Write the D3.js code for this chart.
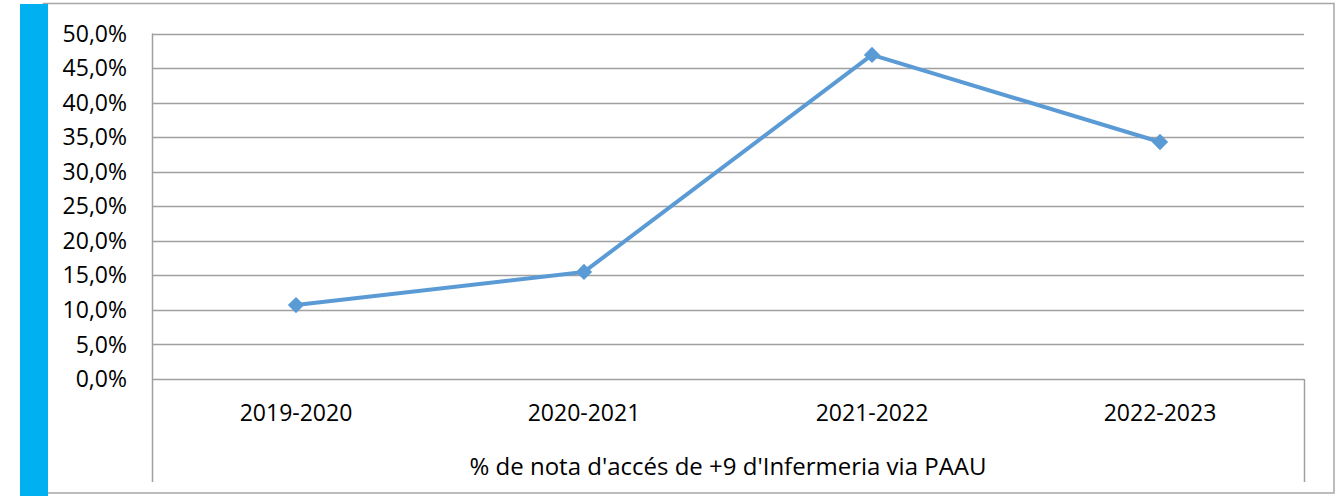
<!DOCTYPE html>
<html>
<head>
<meta charset="utf-8">
<script src="https://cdn.jsdelivr.net/npm/d3@7"></script>
<style>
  body { margin: 0; background: #fff; }
  text { font-family: "Open Sans", sans-serif; fill: #000; }
</style>
</head>
<body>
<div id="chart"></div>
<script>
// data
var years = ["2019-2020", "2020-2021", "2021-2022", "2022-2023"];
var values = [10.7, 15.5, 46.9, 34.3];
var yTicks = [0, 5, 10, 15, 20, 25, 30, 35, 40, 45, 50];
var seriesName = "% de nota d'accés de +9 d'Infermeria via PAAU";

var W = 1343, H = 496;
var plot = {left: 152, right: 1304, top: 33.5, bottom: 379};

var svg = d3.select("#chart").append("svg")
    .attr("width", W)
    .attr("height", H);

// outer chart border
svg.append("rect")
    .attr("x", 43.5).attr("y", 3.5)
    .attr("width", 1334 - 43.5).attr("height", 493 - 3.5)
    .attr("fill", "#fff")
    .attr("stroke", "#a6a6a6")
    .attr("stroke-width", 1.5);

// blue strip on the left
svg.append("rect")
    .attr("x", 20).attr("y", 4)
    .attr("width", 28).attr("height", H - 4)
    .attr("fill", "#00b0f0");

var x = d3.scaleBand()
    .domain(years)
    .range([plot.left, plot.right]);

var y = d3.scaleLinear()
    .domain([0, 50])
    .range([plot.bottom, plot.top]);

// gridlines
svg.append("g")
    .selectAll("line")
    .data(yTicks)
    .enter().append("line")
    .attr("x1", plot.left)
    .attr("x2", plot.right)
    .attr("y1", function(d) { return Math.round(y(d)) + 0.5; })
    .attr("y2", function(d) { return Math.round(y(d)) + 0.5; })
    .attr("stroke", "#a0a0a0")
    .attr("stroke-width", 1.5);

// y axis labels
svg.append("g")
    .selectAll("text")
    .data(yTicks)
    .enter().append("text")
    .attr("x", 127)
    .attr("y", function(d) { return y(d); })
    .attr("dy", "0.35em")
    .attr("text-anchor", "end")
    .style("font-size", "23px")
    .text(function(d) { return d3.format(".1f")(d).replace(".", ",") + "%"; });

// axis lines (left axis goes down through the category area)
svg.append("line")
    .attr("x1", plot.left + 0.5).attr("x2", plot.left + 0.5)
    .attr("y1", plot.top).attr("y2", 482)
    .attr("stroke", "#a0a0a0").attr("stroke-width", 1.5);
svg.append("line")
    .attr("x1", plot.right + 0.5).attr("x2", plot.right + 0.5)
    .attr("y1", plot.bottom).attr("y2", 482)
    .attr("stroke", "#a0a0a0").attr("stroke-width", 1.5);

// category labels
svg.append("g")
    .selectAll("text")
    .data(years)
    .enter().append("text")
    .attr("x", function(d) { return x(d) + x.bandwidth() / 2; })
    .attr("y", 413)
    .attr("dy", "0.35em")
    .attr("text-anchor", "middle")
    .style("font-size", "23px")
    .text(function(d) { return d; });

svg.append("text")
    .attr("x", (plot.left + plot.right) / 2)
    .attr("y", 467)
    .attr("dy", "0.35em")
    .attr("text-anchor", "middle")
    .style("font-size", "24px")
    .text(seriesName);

// line
var pts = years.map(function(d, i) { return {year: d, value: values[i]}; });

var line = d3.line()
    .x(function(d) { return x(d.year) + x.bandwidth() / 2; })
    .y(function(d) { return y(d.value); });

svg.append("path")
    .datum(pts)
    .attr("d", line)
    .attr("fill", "none")
    .attr("stroke", "#5b9bd5")
    .attr("stroke-width", 4)
    .attr("stroke-linejoin", "round");

var diamond = d3.symbol().type(d3.symbolDiamond2).size(170);

svg.append("g")
    .selectAll("path")
    .data(pts)
    .enter().append("path")
    .attr("transform", function(d) {
        return "translate(" + (x(d.year) + x.bandwidth() / 2) + "," + y(d.value) + ")";
    })
    .attr("d", diamond)
    .attr("fill", "#5b9bd5");
</script>
</body>
</html>
